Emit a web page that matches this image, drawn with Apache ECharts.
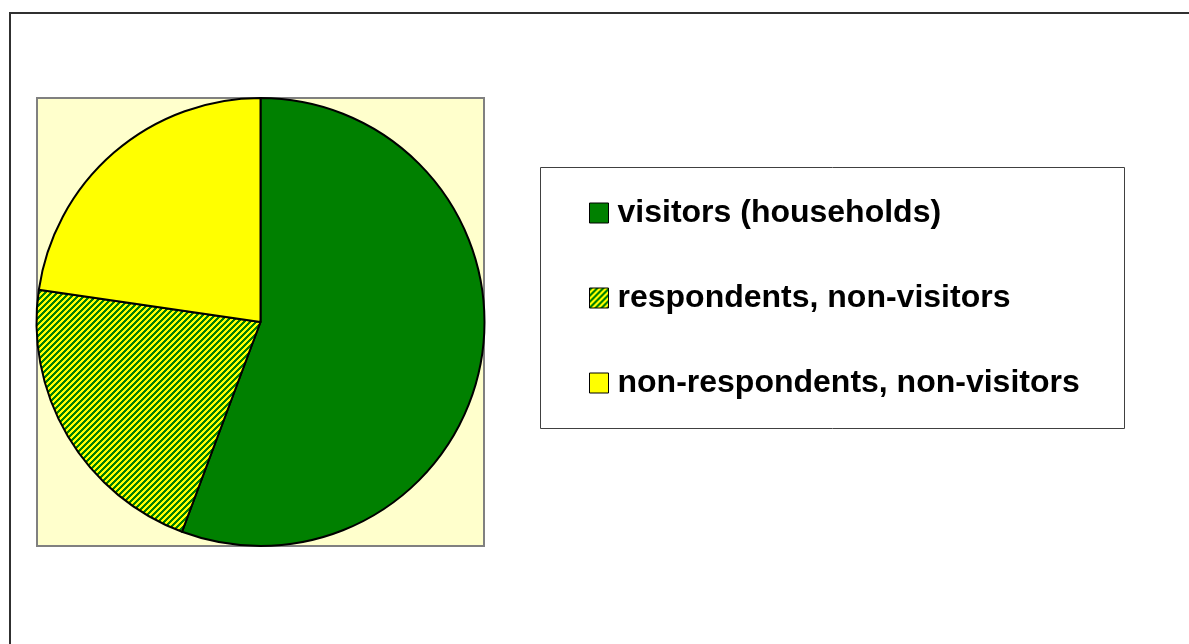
<!DOCTYPE html>
<html>
<head>
<meta charset="utf-8">
<script src="https://cdn.jsdelivr.net/npm/echarts@6/dist/echarts.min.js"></script>
<style>
html,body{margin:0;padding:0;background:#fff;}
#chart{width:1189px;height:644px;}
</style>
</head>
<body>
<div id="chart"></div>
<script>
var categories = ['visitors (households)', 'respondents, non-visitors', 'non-respondents, non-visitors'];
var values = [55.7, 21.6, 22.7];

// hatch pattern (green / yellow diagonal stripes)
function makeHatch() {
  var size = 6;
  var c = document.createElement('canvas');
  c.width = size; c.height = size;
  var ctx = c.getContext('2d');
  var img = ctx.createImageData(size, size);
  for (var y = 0; y < size; y++) {
    for (var x = 0; x < size; x++) {
      var i = (y * size + x) * 4;
      var g = ((x + y) % size) < 3;
      img.data[i] = g ? 0 : 255;
      img.data[i + 1] = g ? 128 : 255;
      img.data[i + 2] = 0;
      img.data[i + 3] = 255;
    }
  }
  ctx.putImageData(img, 0, 0);
  return c;
}
var hatch = makeHatch();
var colors = ['#008000', { image: hatch, repeat: 'repeat' }, '#FFFF00'];

var chart = echarts.init(document.getElementById('chart'), null, { renderer: 'canvas' });
var option = {
  animation: false,
  backgroundColor: '#ffffff',
  graphic: [
    { type: 'rect', z: 0, shape: { x: 10, y: 13, width: 1220, height: 680 },
      style: { fill: '#ffffff', stroke: '#303030', lineWidth: 2 } },
    { type: 'rect', z: 1, shape: { x: 37, y: 98, width: 447, height: 448 },
      style: { fill: '#FFFFCC', stroke: '#808080', lineWidth: 2 } },
    { type: 'rect', z: 1, shape: { x: 540.5, y: 167.5, width: 584, height: 261 },
      style: { fill: '#ffffff', stroke: '#404040', lineWidth: 1 } }
  ],
  legend: {
    orient: 'vertical',
    left: 589,
    top: 197,
    padding: 0,
    itemWidth: 19,
    itemHeight: 20,
    itemGap: 53,
    icon: 'rect',
    z: 5,
    selectedMode: false,
    itemStyle: { borderColor: '#000', borderWidth: 1 },
    textStyle: {
      fontFamily: 'Liberation Sans, Arial, sans-serif',
      fontWeight: 'bold',
      fontSize: 32,
      color: '#000',
      padding: [0, 0, 0, 4]
    },
    data: categories
  },
  series: [{
    type: 'pie',
    z: 3,
    center: [260.5, 322],
    radius: 224,
    startAngle: 90,
    clockwise: true,
    label: { show: false },
    labelLine: { show: false },
    emphasis: { disabled: true },
    itemStyle: { borderColor: '#000', borderWidth: 2 },
    data: categories.map(function (n, i) {
      return { name: n, value: values[i], itemStyle: { color: colors[i] } };
    })
  }]
};
chart.setOption(option);
</script>
</body>
</html>
